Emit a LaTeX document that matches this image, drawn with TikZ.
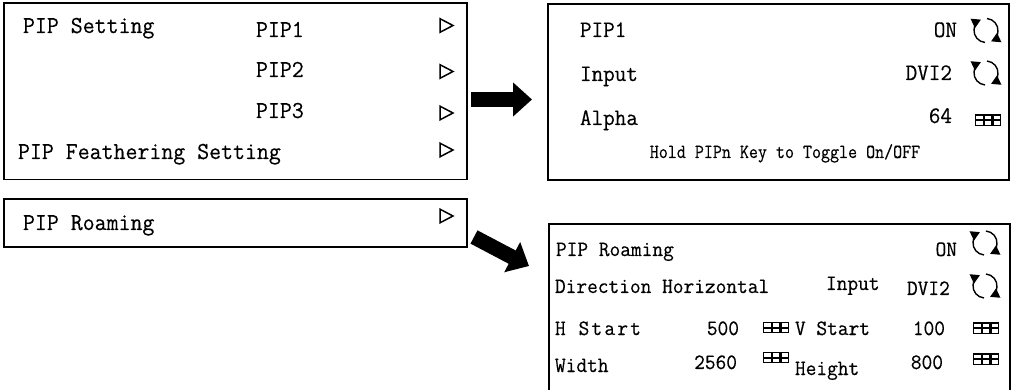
\documentclass[tikz,border=0pt]{standalone}
\usetikzlibrary{arrows.meta}
\newcommand\myembold{\special{pdf:literal 2 Tr 0.08 w}}
\tikzset{
  every node/.style={inner sep=0pt, outer sep=0pt},
  boxframe/.style={draw=black, line width=1.4pt, line join=miter},
  fa/.style={font=\ttfamily\fontsize{23.2}{28}\selectfont\myembold, yscale=1.05},
  fb/.style={font=\ttfamily\fontsize{22.5}{27}\selectfont\myembold, yscale=1.05},
  fc/.style={font=\ttfamily\fontsize{20.8}{25}\selectfont\myembold, yscale=1.05},
  fd/.style={font=\ttfamily\fontsize{20}{24}\selectfont\myembold, xscale=0.875},
  blockarrow/.style={line width=15pt, -{Triangle[length=19pt,width=33pt]}},
  triicon/.pic={\draw[line width=1.5pt, line join=miter] (-6.5,-6.8) -- (6.5,0) -- (-6.5,6.8) -- cycle;},
  cycicon/.pic={
    \draw[line width=1.4pt, -{Triangle[length=9pt,width=10pt]}] (95:12) arc[start angle=95, end angle=245, radius=12];
    \draw[line width=1.4pt, -{Triangle[length=9pt,width=10pt]}] (-85:12) arc[start angle=-85, end angle=65, radius=12];
  },
  gridicon/.pic={
    \foreach \i in {0,1,2} \foreach \j in {0,1}
      \draw[line width=1.25pt] (\i*8.8+0.6, \j*5.6+0.6) rectangle ++(7.6,4.6);
  },
}
\begin{document}
\begin{tikzpicture}[x=1pt, y=-1pt]
\fill[white] (0,0) rectangle (1013,390);
\useasboundingbox (0,0) rectangle (1013,390);

% frames
\node[boxframe, anchor=north west, minimum width=463pt, minimum height=176.5pt] (menu) at (4,3) {};
\node[boxframe, anchor=north west, minimum width=463pt, minimum height=48pt] (roam) at (4,199) {};
\node[boxframe, anchor=north west, minimum width=461pt, minimum height=176pt] (pipset) at (548,4) {};
\draw[boxframe] (549,392) -- (549,224) -- (1010,224) -- (1010,392);

% left menu texts
\node[fa, anchor=base west] (t1) at (23,33) {PIP Setting};
\node[fa, anchor=base west] (t2) at (256,37) {PIP1};
\node[fa, anchor=base west] (t3) at (256,77) {PIP2};
\node[fa, anchor=base west] (t4) at (256,118) {PIP3};
\node[fa, anchor=base west] (t5) at (18,159) {PIP Feathering Setting};
\node[fa, anchor=base west] (t6) at (23,230) {PIP Roaming};
\pic at (446.5,25.5) {triicon};
\pic at (446.5,71.5) {triicon};
\pic at (446.5,113) {triicon};
\pic at (446.5,150) {triicon};
\pic at (446.5,216) {triicon};

% arrows
\coordinate (a1s) at (471,99.5);
\coordinate (a1e) at (532,99.5);
\draw[blockarrow] (a1s) -- (a1e);
\coordinate (a2s) at (474,237);
\coordinate (a2e) at (529,266);
\draw[blockarrow] (a2s) -- (a2e);

% PIP1 panel
\node[fb, anchor=base west] (p1) at (580,37) {PIP1};
\node[fb, anchor=base east] (p2) at (957,37) {ON};
\pic at (986,30.5) {cycicon};
\node[fb, anchor=base west] (p3) at (580,81) {Input};
\node[fb, anchor=base east] (p4) at (952,80) {DVI2};
\pic at (986,73) {cycicon};
\node[fb, anchor=base west] (p5) at (580,125) {Alpha};
\node[fb, anchor=base east] (p6) at (952,123) {64};
\pic at (975,114.5) {gridicon};
\node[fd, anchor=base] (p7) at (785,158) {Hold PIPn Key to Toggle On/OFF};

% PIP Roaming panel
\node[fc, anchor=base west] (r1) at (556,256) {PIP Roaming};
\node[fc, anchor=base east] (r2) at (957,256) {ON};
\pic at (985,243) {cycicon};
\node[fc, anchor=base west] (r3) at (555,293) {Direction Horizontal};
\node[fc, anchor=base west] (r4) at (826,290) {Input};
\node[fc, anchor=base west] (r5) at (907,295) {DVI2};
\pic at (985,286) {cycicon};
\node[fc, anchor=base west] (r6) at (555,335) {H\kern2.2pt\ S\kern2.2pt t\kern2.2pt a\kern2.2pt r\kern2.2pt t};
\node[fc, anchor=base east] (r7) at (739,335) {500};
\pic at (763,322) {gridicon};
\node[fc, anchor=base west] (r8) at (795,335) {V Start};
\node[fc, anchor=base east] (r9) at (945,335) {100};
\pic at (973,322.5) {gridicon};
\node[fc, anchor=base west] (r10) at (555,372) {Width};
\node[fc, anchor=base east] (r11) at (737,369) {2560};
\pic at (763,352) {gridicon};
\node[fc, anchor=base west] (r12) at (795,375) {Height};
\node[fc, anchor=base east] (r13) at (943,369) {800};
\pic at (973,353.5) {gridicon};
\end{tikzpicture}
\end{document}
